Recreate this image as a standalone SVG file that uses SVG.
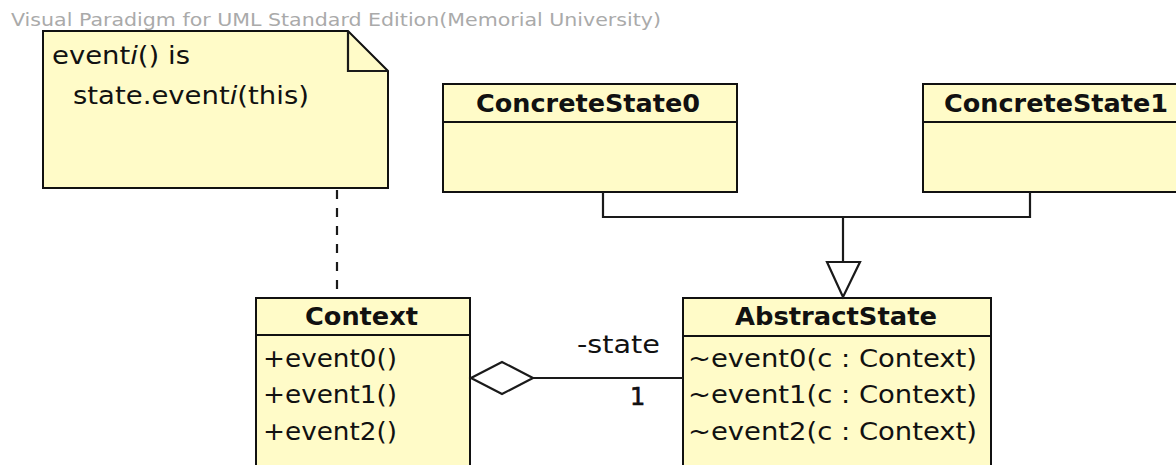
<svg xmlns="http://www.w3.org/2000/svg" width="1176" height="465" viewBox="0 0 1176 465">
  <style>
    .box { fill: #FFFBC8; stroke: #111; stroke-width: 2; }
    .sep { stroke: #111; stroke-width: 2; }
    .edge { fill: none; stroke: #1a1a1a; stroke-width: 2.2; }
    .head { fill: #fff; stroke: #1a1a1a; stroke-width: 2.2; }
    .name { font-family: "DejaVu Sans", sans-serif; font-weight: bold; font-size: 25px; fill: #111; }
    .op { font-family: "DejaVu Sans", sans-serif; font-size: 24px; fill: #111; }
    .mark { font-family: "DejaVu Sans", sans-serif; font-size: 18px; fill: #aaa; }
  </style>

  <text class="mark" x="11" y="26" textLength="650" lengthAdjust="spacingAndGlyphs">Visual Paradigm for UML Standard Edition(Memorial University)</text>

  <g id="note">
    <path class="box" d="M43,31 H348 L388,71 V188 H43 Z"/>
    <path class="edge" d="M348,31 V71 H388"/>
    <text class="op" x="52" y="64" textLength="138" lengthAdjust="spacingAndGlyphs">event<tspan font-style="italic">i</tspan>() is</text>
    <text class="op" x="73" y="104" textLength="236" lengthAdjust="spacingAndGlyphs">state.event<tspan font-style="italic">i</tspan>(this)</text>
  </g>

  <g id="ConcreteState0">
    <rect class="box" x="443" y="84" width="294" height="108"/>
    <line class="sep" x1="443" y1="122" x2="737" y2="122"/>
    <text class="name" x="476" y="112" textLength="224" lengthAdjust="spacingAndGlyphs">ConcreteState0</text>
  </g>

  <g id="ConcreteState1">
    <rect class="box" x="923" y="84" width="290" height="108"/>
    <line class="sep" x1="923" y1="122" x2="1213" y2="122"/>
    <text class="name" x="944" y="112" textLength="224" lengthAdjust="spacingAndGlyphs">ConcreteState1</text>
  </g>

  <g id="Context">
    <rect class="box" x="256" y="298" width="214" height="190"/>
    <line class="sep" x1="256" y1="335" x2="470" y2="335"/>
    <text class="name" x="305" y="325" textLength="113" lengthAdjust="spacingAndGlyphs">Context</text>
    <text class="op" x="263" y="367" textLength="134" lengthAdjust="spacingAndGlyphs">+event0()</text>
    <text class="op" x="263" y="403" textLength="134" lengthAdjust="spacingAndGlyphs">+event1()</text>
    <text class="op" x="263" y="440" textLength="134" lengthAdjust="spacingAndGlyphs">+event2()</text>
  </g>

  <g id="AbstractState">
    <rect class="box" x="683" y="298" width="308" height="190"/>
    <line class="sep" x1="683" y1="336" x2="991" y2="336"/>
    <text class="name" x="735" y="325" textLength="202" lengthAdjust="spacingAndGlyphs">AbstractState</text>
    <text class="op" x="688" y="367" textLength="289" lengthAdjust="spacingAndGlyphs">~event0(c : Context)</text>
    <text class="op" x="688" y="403" textLength="289" lengthAdjust="spacingAndGlyphs">~event1(c : Context)</text>
    <text class="op" x="688" y="440" textLength="289" lengthAdjust="spacingAndGlyphs">~event2(c : Context)</text>
  </g>

  <g id="connectors">
    <!-- note anchor -->
    <line class="edge" x1="337" y1="190" x2="337" y2="297" stroke-dasharray="9,9"/>
    <!-- generalization: concrete states to AbstractState -->
    <path class="edge" d="M603,192 V217 H1030 V192"/>
    <line class="edge" x1="843" y1="217" x2="843" y2="262"/>
    <polygon class="head" points="827,262 860,262 843,297"/>
    <!-- aggregation: Context has -state -->
    <line class="edge" x1="533" y1="378" x2="683" y2="378"/>
    <polygon class="head" points="471,378 502,362 533,378 502,394"/>
    <text class="op" x="577" y="353" textLength="83" lengthAdjust="spacingAndGlyphs">-state</text>
    <text class="op" x="630" y="405" stroke="#111" stroke-width="0.6">1</text>
  </g>
</svg>
